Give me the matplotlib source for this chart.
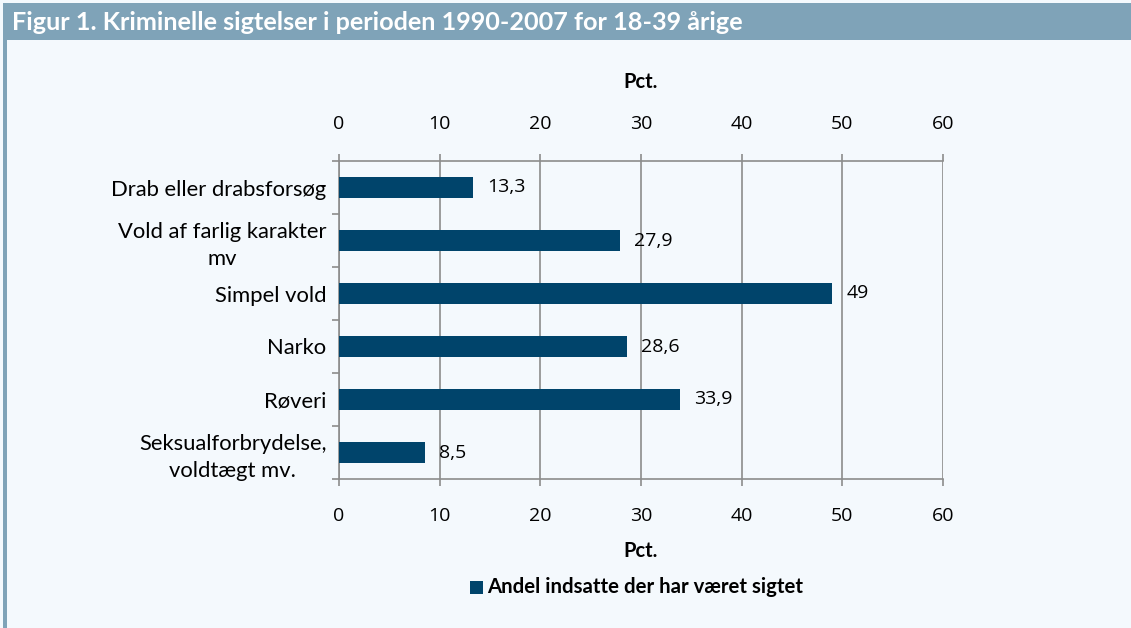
import matplotlib
matplotlib.use("Agg")
import matplotlib.pyplot as plt
from matplotlib.patches import Rectangle

categories = ["Drab eller drabsforsøg", "Vold af farlig karakter\nmv", "Simpel vold",
              "Narko", "Røveri", "Seksualforbrydelse,\nvoldtægt mv."]
values = [13.3, 27.9, 49, 28.6, 33.9, 8.5]
labels = ["13,3", "27,9", "49", "28,6", "33,9", "8,5"]
xticks = [0, 10, 20, 30, 40, 50, 60]
title = "Figur 1. Kriminelle sigtelser i perioden 1990-2007 for 18-39 årige"
legend_label = "Andel indsatte der har været sigtet"

BG = "#f4f9fd"
HEAD = "#7fa3b8"
BAR = "#00446b"
GRID = "#8c8c8c"
FONT = "Lato"
NUMFONT = "Open Sans"
FS = 15.8
NFS = 14

fig = plt.figure(figsize=(11.31, 6.28), dpi=100, facecolor=BG)
fig.patches.append(Rectangle((5/1131, 1-40/628), 1, 37/628, transform=fig.transFigure,
                             facecolor=HEAD, edgecolor="none"))
fig.patches.append(Rectangle((3/1131, 0), 4/1131, 1-3/628, transform=fig.transFigure,
                             facecolor=HEAD, edgecolor="none"))
fig.text(12/1131, 1-22/628, title, color="white", fontsize=18.2, fontweight="bold",
         family="Lato", va="center", ha="left")

ax = fig.add_axes([339/1131, 1-479/628, (943-339)/1131, (479-161)/628])
ax.set_facecolor(BG)
n = len(categories)
ypos = list(range(n))
ax.barh(ypos, values, height=0.4, color=BAR, zorder=3)
ax.set_ylim(n - 0.5, -0.5)
ax.set_xlim(0, 60)
ax.set_xticks(xticks)
ax.set_xticklabels([str(t) for t in xticks], family=NUMFONT, fontsize=NFS)
ax.tick_params(axis="x", top=True, labeltop=True, bottom=True, labelbottom=True,
               direction="out", length=5, color=GRID, width=1.2, pad=15)
ax.grid(axis="x", color=GRID, linewidth=1.2, zorder=1)
ax.set_yticks(ypos)
ax.set_yticklabels(categories, family=FONT, fontsize=FS, multialignment="center",
                   linespacing=1.38)
ax.tick_params(axis="y", length=0, pad=9)
ax.set_yticks([i - 0.5 for i in range(n + 1)], minor=True)
ax.tick_params(axis="y", which="minor", length=5, color=GRID, width=1.2, direction="out")
ax.spines["right"].set_visible(False)
for s in ["left", "bottom", "top"]:
    ax.spines[s].set_color(GRID)
    ax.spines[s].set_linewidth(1.2)

for y, v, lab in zip(ypos, values, labels):
    ax.text(v + 1.4, y, lab, va="center", ha="left", family=NUMFONT, fontsize=NFS, zorder=4)

fig.text(641/1131, 1-82/628, "Pct.", family=FONT, fontsize=14.5, fontweight="bold",
         ha="center", va="center")
fig.text(641/1131, 1-551/628, "Pct.", family=FONT, fontsize=14.5, fontweight="bold",
         ha="center", va="center")
fig.patches.append(Rectangle((470/1131, 1-594/628), 13/1131, 13/628, transform=fig.transFigure,
                             facecolor=BAR, edgecolor="none"))
fig.text(487/1131, 1-587/628, legend_label, family=FONT, fontsize=14.7, fontweight="bold",
         ha="left", va="center")

fig.savefig("out.png", dpi=100, facecolor=BG)
